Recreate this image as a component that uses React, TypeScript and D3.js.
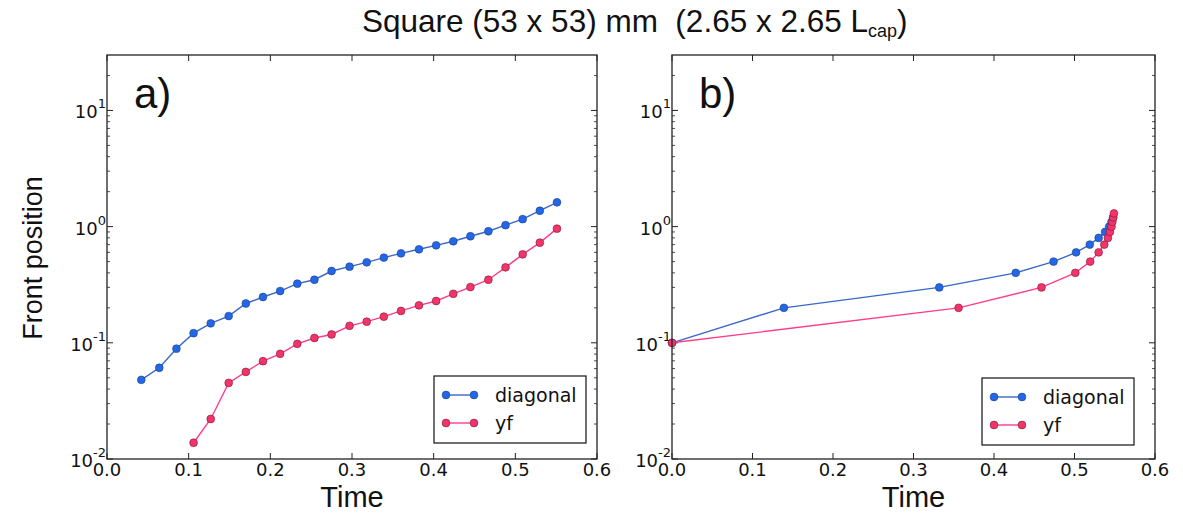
import React from "react";
import * as d3 from "d3";

// ---- data ----
const timeA_diag = [0.042, 0.064, 0.085, 0.106, 0.127, 0.149, 0.170, 0.191, 0.212, 0.233, 0.254, 0.275, 0.297, 0.318, 0.339, 0.360, 0.382, 0.403, 0.424, 0.445, 0.467, 0.488, 0.509, 0.530, 0.551];
const posA_diag = [0.048, 0.061, 0.089, 0.121, 0.147, 0.170, 0.218, 0.248, 0.279, 0.323, 0.349, 0.415, 0.452, 0.493, 0.541, 0.589, 0.638, 0.690, 0.748, 0.826, 0.912, 1.03, 1.16, 1.37, 1.62];
const timeA_yf = [0.106, 0.127, 0.149, 0.170, 0.191, 0.212, 0.233, 0.254, 0.275, 0.297, 0.318, 0.339, 0.360, 0.382, 0.403, 0.424, 0.445, 0.467, 0.488, 0.509, 0.530, 0.551];
const posA_yf = [0.0138, 0.0221, 0.0452, 0.0562, 0.0695, 0.0804, 0.098, 0.110, 0.118, 0.140, 0.152, 0.168, 0.188, 0.210, 0.229, 0.264, 0.302, 0.349, 0.446, 0.577, 0.728, 0.961];

const timeB_diag = [0, 0.139, 0.332, 0.427, 0.474, 0.502, 0.519, 0.530, 0.538, 0.543, 0.546, 0.548];
const posB_diag = [0.1, 0.2, 0.3, 0.4, 0.5, 0.6, 0.7, 0.8, 0.9, 1.0, 1.1, 1.2];
const timeB_yf = [0, 0.356, 0.459, 0.501, 0.5195, 0.530, 0.537, 0.5415, 0.544, 0.546, 0.547, 0.548, 0.549];
const posB_yf = [0.1, 0.2, 0.3, 0.4, 0.5, 0.6, 0.7, 0.8, 0.9, 1.0, 1.1, 1.2, 1.3];

const xTicks = [0, 0.1, 0.2, 0.3, 0.4, 0.5, 0.6];
const xTickLabels = ["0.0", "0.1", "0.2", "0.3", "0.4", "0.5", "0.6"];
const yTicks = [0.01, 0.1, 1, 10];
const yTickExps = ["-2", "-1", "0", "1"];
const seriesNames = ["diagonal", "yf"];
const panelLabels = ["a)", "b)"];

const COLORS = {
  diag: { fill: "#2467e6", edge: "#1b3f8c", line: "#3a68c8" },
  yf: { fill: "#f2346a", edge: "#7a1a34", line: "#ff3d8e" },
};

const TICK_FONT = "'DejaVu Sans', sans-serif";
const LABEL_FONT = "'Liberation Sans', Arial, sans-serif";

type PanelProps = {
  x0: number; x1: number; y0: number; y1: number;
  diagT: number[]; diagV: number[]; yfT: number[]; yfV: number[];
  label: string; legendX: number; legendY: number;
};

function Panel({ x0, x1, y0, y1, diagT, diagV, yfT, yfV, label, legendX, legendY }: PanelProps) {
  const x = d3.scaleLinear().domain([0, 0.6]).range([x0, x1]);
  const y = d3.scaleLog().domain([0.01, 30]).range([y1, y0]);
  const line = d3.line<[number, number]>().x((d) => x(d[0])).y((d) => y(d[1]));
  const diag: [number, number][] = diagT.map((t, i) => [t, diagV[i]]);
  const yf: [number, number][] = yfT.map((t, i) => [t, yfV[i]]);
  const minor: number[] = [];
  [0.01, 0.1, 1, 10].forEach((dec) => {
    for (let k = 2; k <= 9; k++) {
      const v = dec * k;
      if (v < 30) minor.push(v);
    }
  });
  const r = 3.9;
  const lw = 1.4;
  return (
    <g>
      {xTicks.map((t) => (
        <g key={"xt" + t}>
          <line x1={x(t)} x2={x(t)} y1={y1} y2={y1 - 6} stroke="#222" strokeWidth={1} />
          <line x1={x(t)} x2={x(t)} y1={y0} y2={y0 + 6} stroke="#222" strokeWidth={1} />
        </g>
      ))}
      {yTicks.map((t) => (
        <g key={"yt" + t}>
          <line x1={x0} x2={x0 + 6} y1={y(t)} y2={y(t)} stroke="#222" strokeWidth={1} />
          <line x1={x1} x2={x1 - 6} y1={y(t)} y2={y(t)} stroke="#222" strokeWidth={1} />
        </g>
      ))}
      {minor.map((t) => (
        <g key={"ym" + t}>
          <line x1={x0} x2={x0 + 3} y1={y(t)} y2={y(t)} stroke="#222" strokeWidth={0.8} />
          <line x1={x1} x2={x1 - 3} y1={y(t)} y2={y(t)} stroke="#222" strokeWidth={0.8} />
        </g>
      ))}
      {xTicks.map((t, i) => (
        <text key={"xl" + t} x={x(t)} y={y1 + 17} textAnchor="middle" fontFamily={TICK_FONT} fontSize={18} fill="#111">
          {xTickLabels[i]}
        </text>
      ))}
      {yTicks.map((t, i) => (
        <text key={"yl" + t} x={x0 - 1} y={y(t) + 8} textAnchor="end" fontFamily={TICK_FONT} fontSize={18} fill="#111">
          10<tspan fontSize={13} dy={-10}>{yTickExps[i]}</tspan>
        </text>
      ))}
      <path d={line(diag) || ""} fill="none" stroke={COLORS.diag.line} strokeWidth={lw} />
      {diag.map((d, i) => (
        <circle key={"d" + i} cx={x(d[0])} cy={y(d[1])} r={r} fill={COLORS.diag.fill} stroke={COLORS.diag.edge} strokeWidth={0.6} />
      ))}
      <path d={line(yf) || ""} fill="none" stroke={COLORS.yf.line} strokeWidth={lw} />
      {yf.map((d, i) => (
        <circle key={"y" + i} cx={x(d[0])} cy={y(d[1])} r={r} fill={COLORS.yf.fill} stroke={COLORS.yf.edge} strokeWidth={0.6} />
      ))}
      <rect x={x0} y={y0} width={x1 - x0} height={y1 - y0} fill="none" stroke="#222" strokeWidth={1.3} />
      <text x={x0 + 27} y={y0 + 53} fontFamily={LABEL_FONT} fontSize={42} fill="#111">{label}</text>
      <g transform={`translate(${legendX},${legendY})`}>
        <rect x={0} y={0} width={152} height={67} fill="#fff" stroke="#111" strokeWidth={1.2} />
        {[COLORS.diag, COLORS.yf].map((c, i) => (
          <g key={"lg" + i} transform={`translate(0,${19 + i * 28})`}>
            <line x1={12} x2={40} y1={0} y2={0} stroke={c.line} strokeWidth={lw} />
            <circle cx={12} cy={0} r={r} fill={c.fill} stroke={c.edge} strokeWidth={0.6} />
            <circle cx={40} cy={0} r={r} fill={c.fill} stroke={c.edge} strokeWidth={0.6} />
            <text x={61} y={6.5} fontFamily={TICK_FONT} fontSize={19} fill="#111">{seriesNames[i]}</text>
          </g>
        ))}
      </g>
      <text x={(x0 + x1) / 2} y={y1 + 48} textAnchor="middle" fontFamily={LABEL_FONT} fontSize={29} fill="#111">Time</text>
    </g>
  );
}

export default function App() {
  return (
    <svg width={1183} height={514} style={{ position: "absolute", left: 0, top: 0, background: "#fff" }}>
      <rect width={1183} height={514} fill="#fff" />
      <text x={362} y={32} fontFamily={LABEL_FONT} fontSize={31.5} fill="#111" style={{ whiteSpace: "pre" }}>
        {"Square (53 x 53) mm  (2.65 x 2.65 L"}
        <tspan fontSize={18} dy={5}>cap</tspan>
        <tspan dy={-5}>)</tspan>
      </text>
      <text transform="translate(42,258) rotate(-90)" textAnchor="middle" fontFamily={LABEL_FONT} fontSize={27} fill="#111">
        Front position
      </text>
      <Panel x0={107} x1={597} y0={55} y1={459} diagT={timeA_diag} diagV={posA_diag} yfT={timeA_yf} yfV={posA_yf}
        label={panelLabels[0]} legendX={434} legendY={376} />
      <Panel x0={672} x1={1155} y0={55} y1={459} diagT={timeB_diag} diagV={posB_diag} yfT={timeB_yf} yfV={posB_yf}
        label={panelLabels[1]} legendX={982} legendY={378} />
    </svg>
  );
}
